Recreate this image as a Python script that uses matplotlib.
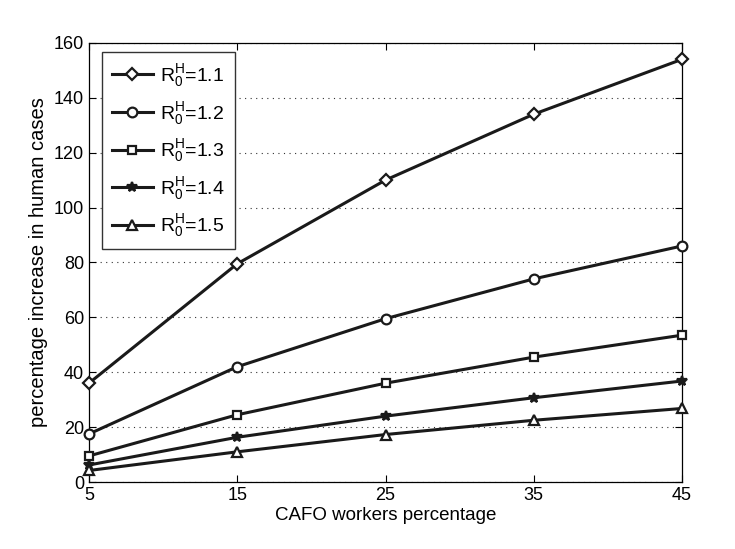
import matplotlib
matplotlib.use("Agg")
import matplotlib.pyplot as plt

plt.rcParams['font.family'] = ['Liberation Sans', 'DejaVu Sans']
plt.rcParams['mathtext.default'] = 'regular'

x = [5, 15, 25, 35, 45]
r11 = [36.0, 79.5, 110.0, 134.0, 154.0]
r12 = [17.5, 42.0, 59.5, 74.0, 86.0]
r13 = [9.5, 24.5, 36.0, 45.5, 53.5]
r14 = [6.2, 16.3, 24.0, 30.7, 36.8]
r15 = [4.2, 11.0, 17.3, 22.5, 26.8]
labels = ['$R_0^H$=1.1', '$R_0^H$=1.2', '$R_0^H$=1.3', '$R_0^H$=1.4', '$R_0^H$=1.5']
markers = ['D', 'o', 's', '*', '^']
msizes = [6, 7, 6, 7, 7.5]

fig = plt.figure(figsize=(7.35, 5.49), dpi=100)
ax = fig.add_axes([0.121, 0.122, 0.807, 0.800])

for ys, lab, m, ms in zip([r11, r12, r13, r14, r15], labels, markers, msizes):
    ax.plot(x, ys, color='#1a1a1a', lw=2.2, marker=m, ms=ms,
            mfc='white' if m != '*' else '#1a1a1a', mec='#1a1a1a', mew=1.6,
            label=lab, clip_on=False, zorder=3)

ax.set_xlim(5, 45)
ax.set_ylim(0, 160)
ax.set_xticks([5, 15, 25, 35, 45])
ax.set_yticks(range(0, 161, 20))
ax.yaxis.grid(True, linestyle=(0, (1, 4)), color='#333333', lw=0.8)
ax.tick_params(direction='in', top=True, right=True, labelsize=13, length=5)
for s in ax.spines.values():
    s.set_linewidth(0.9)
ax.set_xlabel('CAFO workers percentage', fontsize=13.5, labelpad=2)
ax.set_ylabel('percentage increase in human cases', fontsize=14.5, labelpad=4)

leg = ax.legend(loc='upper left', bbox_to_anchor=(0.022, 0.978), fontsize=14,
                fancybox=False, edgecolor='#333333', framealpha=1,
                handlelength=2.1, labelspacing=0.55, borderpad=0.5,
                handletextpad=0.4, borderaxespad=0)
leg.get_frame().set_linewidth(1.0)

fig.savefig('out.png', dpi=100)
